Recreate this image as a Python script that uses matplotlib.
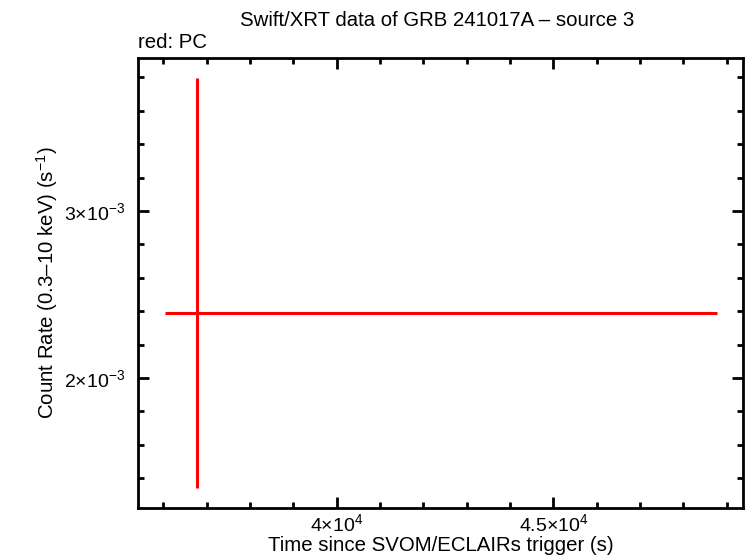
import matplotlib
matplotlib.use("Agg")
import matplotlib.pyplot as plt
from matplotlib.ticker import FixedLocator, MultipleLocator

plt.rcParams['font.family'] = ['Liberation Sans', 'DejaVu Sans']
plt.rcParams['mathtext.fontset'] = 'custom'
plt.rcParams['mathtext.rm'] = 'Liberation Sans'
plt.rcParams['mathtext.it'] = 'Liberation Sans'
plt.rcParams['mathtext.bf'] = 'Liberation Sans'

# Data (PC mode)
time = [36784.0]
time_err_lo = [746.0]
time_err_hi = [11986.0]
rate = [2.387e-3]
rate_err_lo = [1.048e-3]
rate_err_hi = [1.411e-3]

xlim = (35415, 49384)
ylim = (1.2246e-3, 3.916e-3)
xticks = [40000, 45000]
xticklabels = [r'$4{\times}10^{4}$', r'$4.5{\times}10^{4}$']
yticks = [2e-3, 3e-3]
yticklabels = [r'$2{\times}10^{-3}$', r'$3{\times}10^{-3}$']

fig = plt.figure(figsize=(7.46, 5.58), dpi=100)
ax = fig.add_axes([138/746, 1-507.5/558, (743.3-138)/746, (507.5-58)/558])

ax.errorbar(time, rate,
            xerr=[time_err_lo, time_err_hi],
            yerr=[rate_err_lo, rate_err_hi],
            fmt='none', ecolor='#ff0000', elinewidth=2.2, capsize=0)

ax.set_xlim(*xlim)
ax.set_ylim(*ylim)
ax.xaxis.set_major_locator(FixedLocator(xticks))
ax.set_xticklabels(xticklabels)
ax.xaxis.set_minor_locator(MultipleLocator(1000))
ax.yaxis.set_major_locator(FixedLocator(yticks))
ax.set_yticklabels(yticklabels)
ax.yaxis.set_minor_locator(MultipleLocator(2e-4))

ax.tick_params(which='both', direction='in', top=True, right=True, width=2, labelsize=14, colors='black')
ax.tick_params(which='major', length=8)
ax.tick_params(axis='x', which='major', pad=4)
ax.tick_params(axis='y', which='major', pad=9)
ax.tick_params(which='minor', length=4)
for s in ax.spines.values():
    s.set_linewidth(2)

ax.set_xlabel('Time since SVOM/ECLAIRs trigger (s)', fontsize=14.7, labelpad=1)
ax.set_ylabel('Count Rate (0.3\u201310 keV) (s$^{-1}$)', fontsize=14.7, labelpad=3)
fig.text(437/746, 1-20/558, 'Swift/XRT data of GRB 241017A \u2013 source 3', ha='center', va='center', fontsize=14.7)
fig.text(138/746, 1-42/558, 'red: PC', ha='left', va='center', fontsize=14.7)

fig.savefig('out.png', dpi=100)
